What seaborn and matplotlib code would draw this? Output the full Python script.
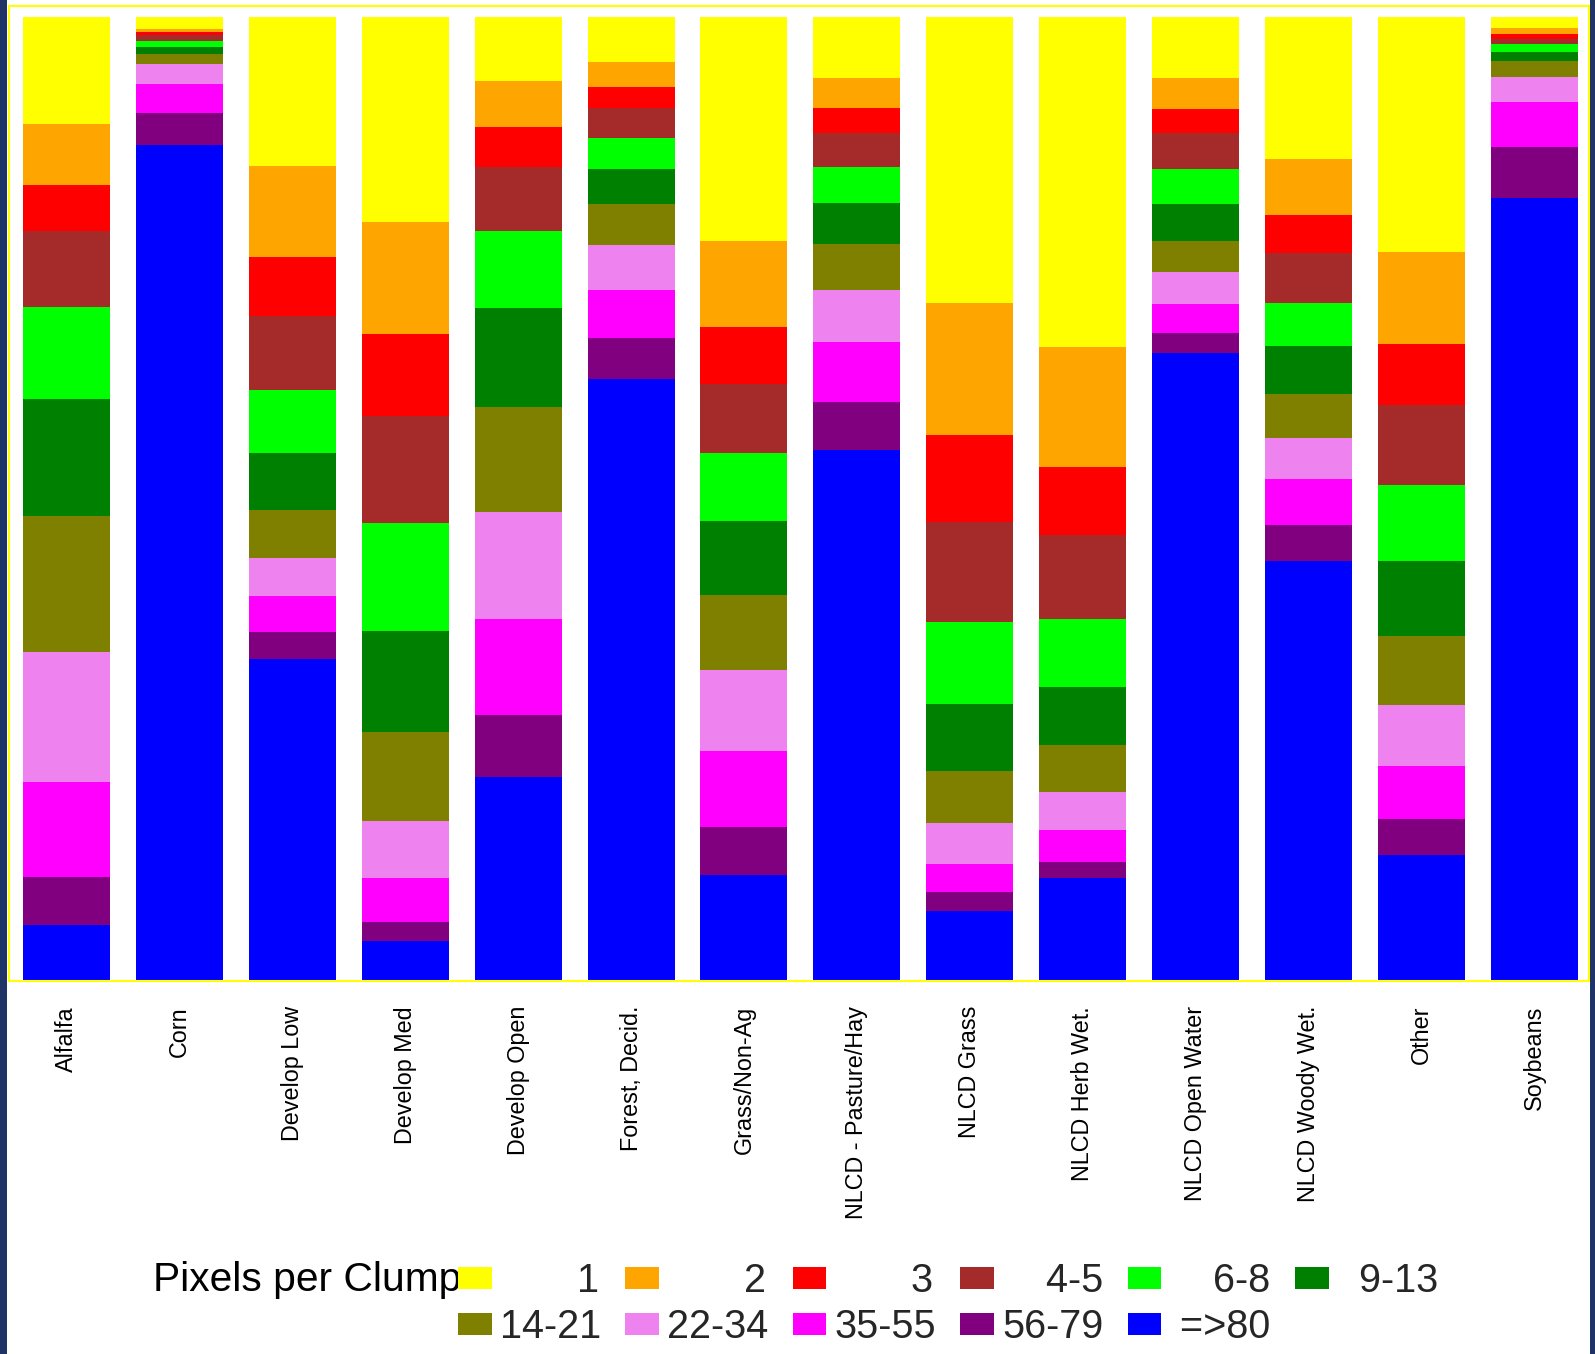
import numpy as np
import pandas as pd
import matplotlib
matplotlib.use("Agg")
import matplotlib.pyplot as plt
from matplotlib.patches import Patch, Rectangle
from matplotlib.font_manager import FontProperties, fontManager
import seaborn as sns

sns.set_theme(style="white")
plt.rcParams["font.family"] = ["Liberation Sans", "DejaVu Sans"]

# land cover classes along the x axis
categories = [
    "Alfalfa", "Corn", "Develop Low", "Develop Med", "Develop Open",
    "Forest, Decid.", "Grass/Non-Ag", "NLCD - Pasture/Hay", "NLCD Grass",
    "NLCD Herb Wet.", "NLCD Open Water", "NLCD Woody Wet.", "Other", "Soybeans",
]

# share (%) of pixels in clumps of each size, per class
px_1 = [11.1, 1.2, 15.5, 21.3, 6.6, 4.7, 23.2, 6.3, 29.7, 34.2, 6.3, 14.7, 24.4, 1.1]
px_2 = [6.3, 0.4, 9.4, 11.6, 4.8, 2.6, 8.9, 3.2, 13.7, 12.5, 3.2, 5.9, 9.5, 0.7]
px_3 = [4.8, 0.3, 6.1, 8.5, 4.2, 2.1, 5.9, 2.5, 9.0, 7.0, 2.5, 3.9, 6.3, 0.5]
px_4_5 = [7.9, 0.6, 7.7, 11.1, 6.6, 3.2, 7.2, 3.6, 10.4, 8.8, 3.7, 5.2, 8.3, 0.5]
px_6_8 = [9.6, 0.6, 6.5, 11.2, 8.0, 3.2, 7.0, 3.7, 8.5, 7.0, 3.7, 4.5, 7.9, 0.8]
px_9_13 = [12.1, 0.7, 5.9, 10.5, 10.3, 3.6, 7.7, 4.3, 7.0, 6.0, 3.8, 4.9, 7.7, 1.0]
px_14_21 = [14.1, 1.1, 5.0, 9.2, 10.9, 4.3, 7.8, 4.8, 5.4, 4.9, 3.2, 4.6, 7.2, 1.6]
px_22_34 = [13.5, 2.0, 4.0, 5.9, 11.1, 4.6, 8.4, 5.3, 4.3, 3.9, 3.3, 4.3, 6.3, 2.6]
px_35_55 = [9.9, 3.0, 3.7, 4.6, 9.9, 5.0, 7.8, 6.3, 2.9, 3.4, 3.0, 4.8, 5.5, 4.7]
px_56_79 = [5.0, 3.4, 2.8, 2.0, 6.4, 4.3, 5.0, 5.0, 1.9, 1.6, 2.1, 3.7, 3.7, 5.3]
px_80 = [5.8, 86.5, 33.4, 4.1, 21.2, 62.4, 11.0, 55.1, 7.3, 10.7, 65.0, 43.6, 13.1, 81.1]

sizes = ["1", "2", "3", "4-5", "6-8", "9-13", "14-21", "22-34", "35-55", "56-79", "=>80"]
colors = ["#ffff00", "#ffa500", "#ff0000", "#a52a2a", "#00ff00", "#008000",
          "#808000", "#ee82ee", "#ff00ff", "#800080", "#0000ff"]
series = [px_1, px_2, px_3, px_4_5, px_6_8, px_9_13, px_14_21,
          px_22_34, px_35_55, px_56_79, px_80]

df = pd.DataFrame(dict(zip(sizes, series)), index=categories)
df = df.div(df.sum(axis=1), axis=0) * 100
# stack from the bottom (=>80) upwards
cum = df[sizes[::-1]].cumsum(axis=1)

W, H = 1595, 1354
fig = plt.figure(figsize=(W / 100, H / 100), dpi=100)
ax = fig.add_axes([9 / W, (H - 981) / H, 1580 / W, 975 / H])

# draw the tallest layer first, each shorter one on top
for size, col in zip(sizes, colors):
    sns.barplot(x=cum.index, y=cum[size].values, color=col, width=0.77,
                saturation=1, errorbar=None, linewidth=0, ax=ax)

ax.set_xlim(-0.51, 13.485)
ax.set_ylim(0, 101.14)
ax.set_yticks([])
ax.set_xlabel("")
ax.set_ylabel("")

names = {f.name for f in fontManager.ttflist}
if "Liberation Sans Narrow" in names:
    tick_font, tick_size = "Liberation Sans Narrow", 20.5
else:
    tick_font, tick_size = "Liberation Sans", 16.8
ax.set_xticks(range(len(categories)))
ax.set_xticklabels(categories, rotation=90, fontsize=tick_size,
                   family=tick_font, color="black")
ax.tick_params(axis="x", length=0, pad=18)

for s in ax.spines.values():
    s.set_visible(True)
    s.set_color("#ffff00")
    s.set_linewidth(1.5)


def pad_labels(labels, size):
    """Left-pad labels with spaces so they look right aligned"""
    r = fig.canvas.get_renderer()
    fp = FontProperties(family="Liberation Sans", size=size)
    w = [r.get_text_width_height_descent(l, fp, ismath=False)[0] for l in labels]
    sp = (r.get_text_width_height_descent("a a", fp, ismath=False)[0]
          - r.get_text_width_height_descent("aa", fp, ismath=False)[0])
    wmax = max(w)
    return [" " * int(round((wmax - wi) / sp)) + l for l, wi in zip(labels, w)]


leg_size = 28.5
labels = pad_labels(sizes, leg_size)
handles = [Patch(facecolor=c, edgecolor="none", label=l) for c, l in zip(colors, labels)]
# legend fills column-wise; reorder so it reads row by row
order = [0, 6, 1, 7, 2, 8, 3, 9, 4, 10, 5]
fig.legend(handles=[handles[i] for i in order], ncol=6, loc="upper left",
           bbox_to_anchor=(458 / W, (H - 1262) / H), frameon=False,
           fontsize=leg_size, handlelength=0.85, handleheight=0.5,
           handletextpad=0.2, columnspacing=0.62, labelspacing=0.2,
           borderpad=0, borderaxespad=0)
fig.text(153 / W, (H - 1280) / H, "Pixels per Clump", fontsize=29.3,
         ha="left", va="center", color="black")

# dark frame strips on the sides
fig.patches.append(Rectangle((0, 0), 7 / W, 1, transform=fig.transFigure,
                             facecolor="#1f3366", edgecolor="none"))
fig.patches.append(Rectangle((1590 / W, 0), 5 / W, 1, transform=fig.transFigure,
                             facecolor="#1f3366", edgecolor="none"))

fig.savefig("out.png", dpi=100)
